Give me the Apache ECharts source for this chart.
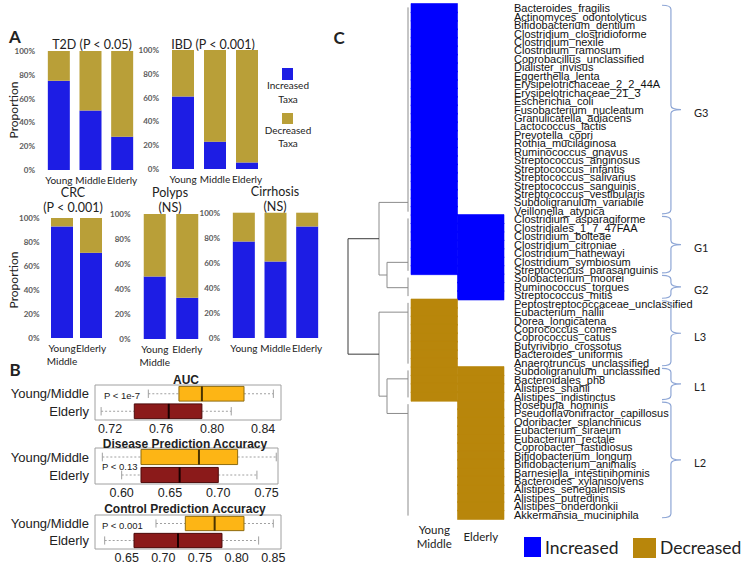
<!DOCTYPE html>
<html><head><meta charset="utf-8">
<script src="https://cdn.jsdelivr.net/npm/echarts@6/dist/echarts.min.js"></script>
<style>html,body{margin:0;padding:0;background:#fff}#c{width:750px;height:563px}</style>
</head><body><div id="c"></div>
<script>
// ---------- Panel A: proportion of increased / decreased taxa (%) ----------
const t2dCats = ['Young', 'Middle', 'Elderly'];
const t2dIncreased = [75, 50, 28];
const t2dDecreased = [25, 50, 72];
const ibdCats = ['Young', 'Middle', 'Elderly'];
const ibdIncreased = [61, 23, 5.5];
const ibdDecreased = [39, 77, 94.5];
const crcCats = ['Young\nMiddle', 'Elderly'];
const crcIncreased = [93, 71];
const crcDecreased = [7, 29];
const polypsCats = ['Young\nMiddle', 'Elderly'];
const polypsIncreased = [50, 33];
const polypsDecreased = [50, 67];
const cirrhosisCats = ['Young', 'Middle', 'Elderly'];
const cirrhosisIncreased = [77, 61, 89];
const cirrhosisDecreased = [23, 39, 11];

// ---------- Panel B: boxplots [min, Q1, median, Q3, max] ----------
const boxCats = ['Young/Middle', 'Elderly'];
const aucYoungMiddle = [0.750, 0.774, 0.792, 0.825, 0.848];
const aucElderly = [0.713, 0.739, 0.766, 0.792, 0.815];
const diseaseYoungMiddle = [0.58, 0.62, 0.68, 0.72, 0.76];
const diseaseElderly = [0.60, 0.62, 0.66, 0.70, 0.74];
const controlYoungMiddle = [0.69, 0.73, 0.77, 0.81, 0.85];
const controlElderly = [0.62, 0.66, 0.72, 0.78, 0.83];
const aucTicks = [0.72, 0.76, 0.80, 0.84];
const diseaseTicks = [0.60, 0.65, 0.70, 0.75];
const controlTicks = [0.65, 0.70, 0.75, 0.80, 0.85];

// ---------- Panel C: taxa heatmap ----------
const taxa = [
  'Bacteroides_fragilis','Actinomyces_odontolyticus','Bifidobacterium_dentium','Clostridium_clostridioforme',
  'Clostridium_nexile','Clostridium_ramosum','Coprobacillus_unclassified','Dialister_invisus','Eggerthella_lenta',
  'Erysipelotrichaceae_2_2_44A','Erysipelotrichaceae_21_3','Escherichia_coli','Fusobacterium_nucleatum',
  'Granulicatella_adiacens','Lactococcus_lactis','Prevotella_copri','Rothia_mucilaginosa','Ruminococcus_gnavus',
  'Streptococcus_anginosus','Streptococcus_infantis','Streptococcus_salivarius','Streptococcus_sanguinis',
  'Streptococcus_vestibularis','Subdoligranulum_variabile','Veillonella_atypica',
  'Clostridium_asparagiforme','Clostridiales_1_7_47FAA','Clostridium_bolteae','Clostridium_citroniae',
  'Clostridium_hathewayi','Clostridium_symbiosum','Streptococcus_parasanguinis',
  'Solobacterium_moorei','Ruminococcus_torques','Streptococcus_mitis',
  'Peptostreptococcaceae_unclassified','Eubacterium_hallii','Dorea_longicatena','Coprococcus_comes',
  'Coprococcus_catus','Butyrivibrio_crossotus','Bacteroides_uniformis','Anaerotruncus_unclassified',
  'Subdoligranulum_unclassified','Bacteroidales_ph8','Alistipes_shahii','Alistipes_indistinctus',
  'Roseburia_hominis','Pseudoflavonifractor_capillosus','Odoribacter_splanchnicus','Eubacterium_siraeum',
  'Eubacterium_rectale','Coprobacter_fastidiosus','Bifidobacterium_longum','Bifidobacterium_animalis',
  'Barnesiella_intestinihominis','Bacteroides_xylanisolvens','Alistipes_senegalensis','Alistipes_putredinis',
  'Alistipes_onderdonkii','Akkermansia_muciniphila'
];
const heatColumns = ['Young\nMiddle', 'Elderly'];
// 1 = increased, -1 = decreased, 0 = none
const youngMiddleStatus = [
  1,1,1,1,1,1,1,1,1,1,1,1,1,1,1,1,1,1,1,1,1,1,1,1,1,
  1,1,1,1,1,1,1,
  0,0,0,
  -1,-1,-1,-1,-1,-1,-1,-1,
  -1,-1,-1,-1,
  0,0,0,0,0,0,0,0,0,0,0,0,0,0
];
const elderlyStatus = [
  0,0,0,0,0,0,0,0,0,0,0,0,0,0,0,0,0,0,0,0,0,0,0,0,0,
  1,1,1,1,1,1,1,
  1,1,1,
  0,0,0,0,0,0,0,0,
  -1,-1,-1,-1,
  -1,-1,-1,-1,-1,-1,-1,-1,-1,-1,-1,-1,-1,-1
];
const groupNames = ['G3', 'G1', 'G2', 'L3', 'L1', 'L2'];
const groupFirstRow = [0, 25, 32, 35, 43, 47];
const groupEndRow = [25, 32, 35, 43, 47, 61];
// dendrogram: leaf attachment rows (row units) and merges [childA, childB, height]
const dendroLeafRow = [23.5, 30.6, 33.6, 36.5, 44.4, 48.5];
const dendroMerges = [[1, 2, 21], [4, 5, 21], [0, 6, 29], [3, 7, 29], [8, 9, 60]];

// ---------- styles ----------
const BLUE_A = '#1d1de4', GOLD_A = '#b99f38';
const BLUE_C = '#0000ff', GOLD_C = '#b8860b';
const FONT = 'Lato, "Open Sans", sans-serif';
const ARIAL = '"Liberation Sans", Arial, sans-serif';
const NARROW = '"Liberation Sans Narrow", "Arial Narrow", "Liberation Sans", sans-serif';

const grids = [], xAxes = [], yAxes = [], series = [], graphics = [];

function addBarPanel(rect, cats, inc, dec) {
  const gi = grids.length;
  grids.push({left: rect[0], top: rect[1], width: rect[2], height: rect[3], outerBoundsMode: 'none'});
  xAxes.push({type: 'category', gridIndex: gi, data: cats, axisLine: {show: false}, axisTick: {show: false},
    axisLabel: {fontFamily: FONT, fontSize: 10, color: '#222', margin: 3, lineHeight: 13, interval: 0}});
  yAxes.push({type: 'value', gridIndex: gi, min: 0, max: 100, interval: 20, splitLine: {show: false},
    axisLine: {show: false}, axisTick: {show: false},
    axisLabel: {formatter: '{value}%', fontFamily: FONT, fontSize: 8, fontWeight: 'bold', color: '#5a5a5a', margin: 8}});
  series.push({type: 'bar', xAxisIndex: gi, yAxisIndex: gi, stack: 's' + gi, data: inc, barWidth: 22,
    itemStyle: {color: BLUE_A}, silent: true});
  series.push({type: 'bar', xAxisIndex: gi, yAxisIndex: gi, stack: 's' + gi, data: dec, barWidth: 22,
    itemStyle: {color: GOLD_A}, silent: true});
}
addBarPanel([43, 51, 95, 119], t2dCats, t2dIncreased, t2dDecreased);
addBarPanel([167, 50, 96, 119], ibdCats, ibdIncreased, ibdDecreased);
addBarPanel([47.5, 218, 58, 120], crcCats, crcIncreased, crcDecreased);
addBarPanel([138.5, 214, 65, 125], polypsCats, polypsIncreased, polypsDecreased);
addBarPanel([228, 212.7, 95, 125.3], cirrhosisCats, cirrhosisIncreased, cirrhosisDecreased);

const boxPalette = [
  {fill: '#fdb515', stroke: '#8f6c10', median: '#4a3300'},
  {fill: '#8b1a1a', stroke: '#4e0b0b', median: '#1a0000'}
];
function renderBox(params, api) {
  const cat = api.value(0);
  const pMin = api.coord([api.value(1), cat]);
  const pQ1 = api.coord([api.value(2), cat]);
  const pMed = api.coord([api.value(3), cat]);
  const pQ3 = api.coord([api.value(4), cat]);
  const pMax = api.coord([api.value(5), cat]);
  const band = api.size([0, 1])[1];
  const hh = band * 0.42, ch = band * 0.24;
  const y = pMed[1];
  const pal = boxPalette[params.dataIndex];
  const wStyle = {stroke: '#a0a0a0', lineWidth: 1, lineDash: [2, 2]};
  const cStyle = {stroke: '#a0a0a0', lineWidth: 1};
  return {type: 'group', children: [
    {type: 'line', shape: {x1: pMin[0], y1: y, x2: pQ1[0], y2: y}, style: wStyle},
    {type: 'line', shape: {x1: pQ3[0], y1: y, x2: pMax[0], y2: y}, style: wStyle},
    {type: 'line', shape: {x1: pMin[0], y1: y - ch, x2: pMin[0], y2: y + ch}, style: cStyle},
    {type: 'line', shape: {x1: pMax[0], y1: y - ch, x2: pMax[0], y2: y + ch}, style: cStyle},
    {type: 'rect', shape: {x: pQ1[0], y: y - hh, width: pQ3[0] - pQ1[0], height: 2 * hh},
      style: {fill: pal.fill, stroke: pal.stroke, lineWidth: 1}},
    {type: 'line', shape: {x1: pMed[0], y1: y - hh, x2: pMed[0], y2: y + hh}, style: {stroke: pal.median, lineWidth: 2}}
  ]};
}
function addBoxPanel(rect, min, max, ticks, ym, eld) {
  const gi = grids.length;
  grids.push({left: rect[0], top: rect[1], width: rect[2], height: rect[3], show: true,
    borderColor: '#a0a0a0', borderWidth: 1, backgroundColor: 'transparent', outerBoundsMode: 'none'});
  xAxes.push({type: 'value', gridIndex: gi, min: min, max: max, splitLine: {show: false},
    axisLine: {show: false}, axisTick: {show: false},
    axisLabel: {customValues: ticks, formatter: v => v.toFixed(2), fontFamily: ARIAL, fontSize: 12.5, color: '#222', margin: 2}});
  yAxes.push({type: 'category', gridIndex: gi, data: boxCats, inverse: true, axisLine: {show: false},
    axisTick: {show: false}, axisLabel: {fontFamily: ARIAL, fontSize: 13, color: '#222', margin: 6}});
  series.push({type: 'custom', xAxisIndex: gi, yAxisIndex: gi, renderItem: renderBox, silent: true,
    encode: {x: [1, 2, 3, 4, 5], y: 0},
    data: [[0].concat(ym), [1].concat(eld)]});
}
addBoxPanel([95, 385, 186, 35], 0.7082, 0.854, aucTicks, aucYoungMiddle, aucElderly);
addBoxPanel([95, 448, 183, 36], 0.5724, 0.7618, diseaseTicks, diseaseYoungMiddle, diseaseElderly);
addBoxPanel([95, 515, 186, 34], 0.6068, 0.8605, controlTicks, controlYoungMiddle, controlElderly);

// ---------- heatmap ----------
(function () {
  const gi = grids.length;
  grids.push({left: 411, top: 4, width: 93, height: 515, outerBoundsMode: 'none'});
  xAxes.push({type: 'category', gridIndex: gi, data: heatColumns, axisLine: {show: false}, axisTick: {show: false},
    axisLabel: {fontFamily: FONT, fontSize: 11.5, color: '#222', lineHeight: 14, verticalAlign: 'middle', margin: 17, interval: 0}});
  yAxes.push({type: 'category', gridIndex: gi, data: taxa, inverse: true, position: 'right',
    axisLine: {show: false}, axisTick: {show: false},
    axisLabel: {interval: 0, fontFamily: NARROW, fontSize: 11, color: '#111', margin: 10}});
  const cells = [];
  taxa.forEach((t, i) => {
    cells.push([0, i, youngMiddleStatus[i]]);
    cells.push([1, i, elderlyStatus[i]]);
  });
  series.push({type: 'custom', xAxisIndex: gi, yAxisIndex: gi, silent: true, data: cells,
    encode: {x: 0, y: 1},
    renderItem: function (params, api) {
      const s = api.value(2);
      if (!s) return null;
      const c = api.coord([api.value(0), api.value(1)]);
      const sz = api.size([1, 1]);
      const col = s > 0 ? BLUE_C : GOLD_C;
      return {type: 'rect', shape: {x: c[0] - sz[0] / 2, y: c[1] - sz[1] / 2 - 0.5, width: sz[0], height: sz[1] + 1},
        style: {fill: col, stroke: col, lineWidth: 0.6}};
    }});
})();

// ---------- dendrogram ----------
(function () {
  const gi = grids.length;
  grids.push({left: 338, top: 4, width: 70, height: 515, outerBoundsMode: 'none'});
  xAxes.push({type: 'value', gridIndex: gi, min: 0, max: 70, inverse: true, show: false});
  yAxes.push({type: 'value', gridIndex: gi, min: 0, max: 61, inverse: true, show: false});
  const nodeRow = dendroLeafRow.slice();
  const nodeH = dendroLeafRow.map(() => 0);
  const segs = [];
  // leaf spans
  groupFirstRow.forEach((f, k) => segs.push([0, f + 0.4, 0, groupEndRow[k] - 0.4, 0]));
  dendroMerges.forEach((m, k) => {
    const a = m[0], b = m[1], h = m[2];
    const strong = k === dendroMerges.length - 1 ? 1 : 0;
    segs.push([h, nodeRow[a], h, nodeRow[b], strong]);
    segs.push([nodeH[a], nodeRow[a], h, nodeRow[a], strong]);
    segs.push([nodeH[b], nodeRow[b], h, nodeRow[b], strong]);
    nodeRow.push((nodeRow[a] + nodeRow[b]) / 2);
    nodeH.push(h);
  });
  series.push({type: 'custom', xAxisIndex: gi, yAxisIndex: gi, silent: true, data: segs,
    encode: {x: [0, 2], y: [1, 3]},
    renderItem: function (params, api) {
      const p1 = api.coord([api.value(0), api.value(1)]);
      const p2 = api.coord([api.value(2), api.value(3)]);
      return {type: 'line', shape: {x1: p1[0], y1: p1[1], x2: p2[0], y2: p2[1]},
        style: {stroke: api.value(4) ? '#3a3a3a' : '#8c8c8c', lineWidth: 1}};
    }});
})();

// ---------- group braces ----------
(function () {
  const gi = grids.length;
  grids.push({left: 662, top: 4, width: 19, height: 515, outerBoundsMode: 'none'});
  xAxes.push({type: 'value', gridIndex: gi, min: 0, max: 1, show: false});
  yAxes.push({type: 'value', gridIndex: gi, min: 0, max: 61, inverse: true, show: false});
  const data = groupNames.map((n, k) => [groupFirstRow[k] + 0.15, groupEndRow[k] - 0.15, k]);
  series.push({type: 'custom', xAxisIndex: gi, yAxisIndex: gi, silent: true, data: data,
    encode: {y: [0, 1]},
    renderItem: function (params, api) {
      const top = api.coord([0, api.value(0)]);
      const bot = api.coord([0, api.value(1)]);
      const mid = api.coord([1, (api.value(0) + api.value(1)) / 2]);
      const line = api.coord([0.47, 0]);
      const x0 = top[0], x1 = line[0], x2 = mid[0];
      const y1 = top[1], y2 = bot[1], ym = mid[1];
      const d = 'M' + x0 + ' ' + y1 + ' Q' + x1 + ' ' + y1 + ' ' + x1 + ' ' + (y1 + 4) +
        ' L' + x1 + ' ' + (ym - 4) + ' Q' + x1 + ' ' + ym + ' ' + x2 + ' ' + ym +
        ' Q' + x1 + ' ' + ym + ' ' + x1 + ' ' + (ym + 4) +
        ' L' + x1 + ' ' + (y2 - 4) + ' Q' + x1 + ' ' + y2 + ' ' + x0 + ' ' + y2;
      return {type: 'group', children: [
        {type: 'path', shape: {pathData: d}, style: {fill: 'none', stroke: '#8fa7d6', lineWidth: 1.2}},
        {type: 'text', x: x2 + 13, y: ym + 3, style: {text: groupNames[api.value(2)], fill: '#222',
          font: '11px ' + FONT, align: 'left', verticalAlign: 'middle', textAlign: 'left', textVerticalAlign: 'middle'}}
      ]};
    }});
})();

// ---------- texts / legends ----------
function txt(x, y, text, font, align, extra) {
  return Object.assign({type: 'text', x: x, y: y, silent: true,
    style: {text: text, font: font, fill: '#222', align: align || 'center', verticalAlign: 'middle',
      textAlign: align || 'center', textVerticalAlign: 'middle', lineHeight: (extra && extra.lh) || undefined}},
    extra && extra.rot !== undefined ? {rotation: extra.rot} : {});
}
graphics.push(txt(15, 36, 'A', 'bold 17px ' + FONT));
graphics.push(txt(15, 369, 'B', 'bold 17px ' + FONT));
graphics.push(txt(339, 37, 'C', 'bold 17px ' + FONT));
graphics.push(txt(92, 44, 'T2D (P < 0.05)', '12.5px ' + FONT));
graphics.push(txt(213, 44, 'IBD (P < 0.001)', '12.5px ' + FONT));
graphics.push(txt(73, 200, 'CRC\n(P < 0.001)', '12.5px ' + FONT, 'center', {lh: 15.5}));
graphics.push(txt(170, 200, 'Polyps\n(NS)', '12.5px ' + FONT, 'center', {lh: 15.5}));
graphics.push(txt(275, 199, 'Cirrhosis\n(NS)', '12.5px ' + FONT, 'center', {lh: 15.5}));
graphics.push(txt(13, 110, 'Proportion', '12px ' + FONT, 'center', {rot: Math.PI / 2}));
graphics.push(txt(13, 280, 'Proportion', '12px ' + FONT, 'center', {rot: Math.PI / 2}));
// panel A legend
graphics.push({type: 'rect', shape: {x: 282, y: 68, width: 11, height: 12}, style: {fill: BLUE_A}, silent: true});
graphics.push(txt(288, 92, 'Increased\nTaxa', '10px ' + FONT, 'center', {lh: 14}));
graphics.push({type: 'rect', shape: {x: 282, y: 113, width: 11, height: 11}, style: {fill: GOLD_A}, silent: true});
graphics.push(txt(288, 136.5, 'Decreased\nTaxa', '10px ' + FONT, 'center', {lh: 13}));
// panel B
graphics.push(txt(186, 380, 'AUC', 'bold 12px ' + NARROW));
graphics.push(txt(185, 444, 'Disease Prediction Accuracy', 'bold 12px ' + NARROW));
graphics.push(txt(185, 509, 'Control Prediction Accuracy', 'bold 12px ' + NARROW));
graphics.push(txt(104, 395, 'P < 1e-7', '9.5px ' + ARIAL, 'left'));
graphics.push(txt(102, 466, 'P < 0.13', '9.5px ' + ARIAL, 'left'));
graphics.push(txt(102, 525, 'P < 0.001', '9.5px ' + ARIAL, 'left'));
// panel C legend
graphics.push({type: 'rect', shape: {x: 524, y: 537, width: 17, height: 20}, style: {fill: BLUE_C}, silent: true});
graphics.push(txt(545, 547, 'Increased', '17.5px ' + FONT, 'left'));
graphics.push({type: 'rect', shape: {x: 633, y: 538, width: 23, height: 20}, style: {fill: GOLD_C}, silent: true});
graphics.push(txt(660, 547, 'Decreased', '17.5px ' + FONT, 'left'));

const chart = echarts.init(document.getElementById('c'), null, {renderer: 'svg', width: 750, height: 563});
chart.setOption({
  animation: false,
  backgroundColor: '#fff',
  grid: grids, xAxis: xAxes, yAxis: yAxes, series: series,
  graphic: {elements: graphics}
});
</script></body></html>
